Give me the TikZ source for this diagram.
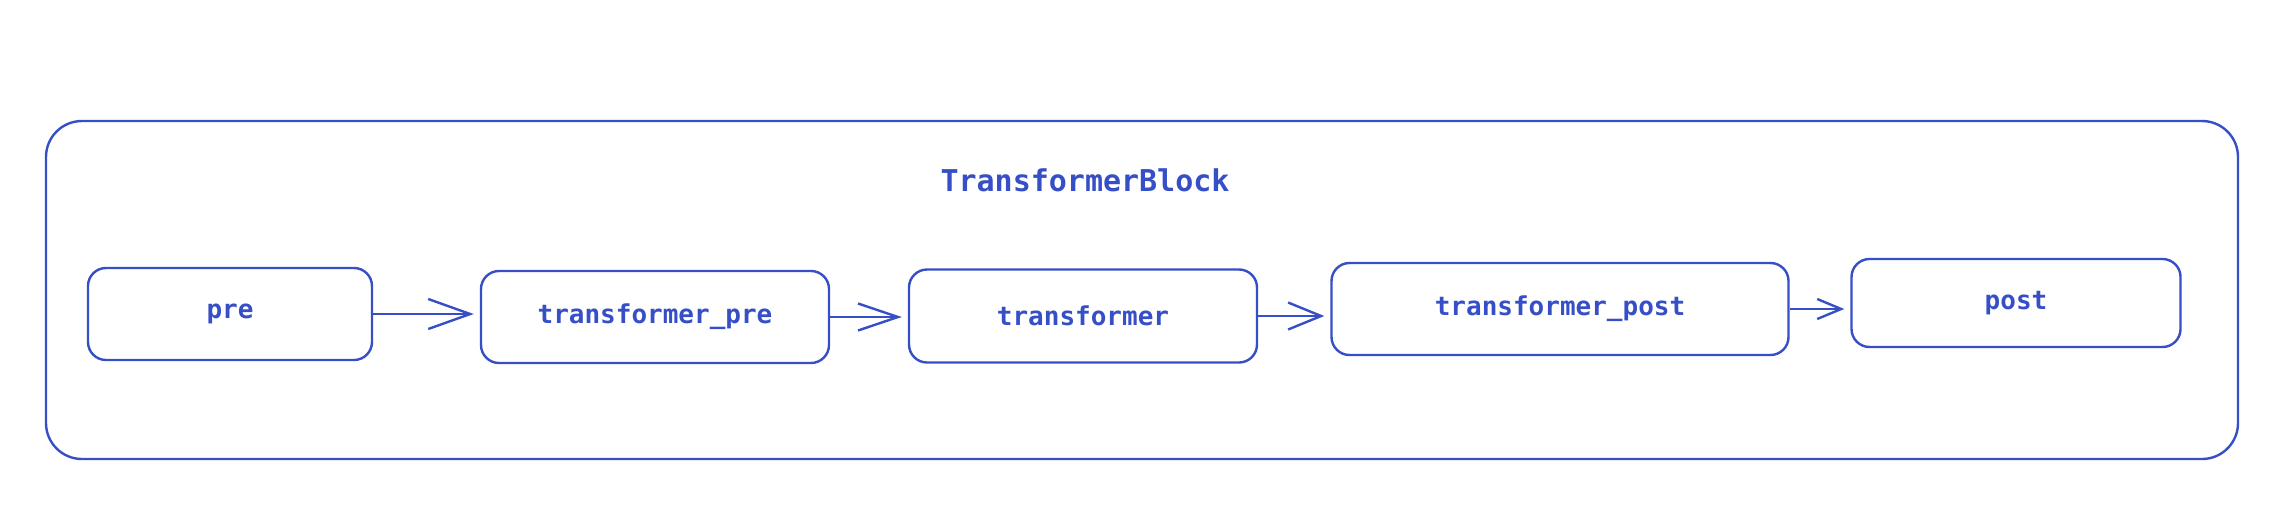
\documentclass[tikz,border=0pt]{standalone}
\usepackage{fontspec}
\setmonofont{DejaVu Sans Mono}
\usetikzlibrary{arrows.meta}
\definecolor{ink}{HTML}{364FC7}
\tikzset{
  blk/.style={draw=ink, line width=1.2pt, rounded corners=9pt, inner sep=0pt,
    font=\ttfamily\bfseries\fontsize{13}{15}\selectfont, text=ink},
  conn/.style={draw=ink, line width=1.2pt, shorten >=3pt}
}
\begin{document}
\begin{tikzpicture}[x=0.5pt, y=-0.5pt]
\useasboundingbox (0,0) rectangle (2278,509);
\node[draw=ink, line width=1.2pt, rounded corners=18pt, minimum width=1096pt, minimum height=169pt, inner sep=0pt] (outer) at (1142,290) {};
\node[text=ink, font=\ttfamily\bfseries\fontsize{15}{18}\selectfont] (title) at (1085,180) {TransformerBlock};
\node[blk, minimum width=142pt, minimum height=46pt] (pre) at (230,314) {pre};
\node[blk, minimum width=174pt, minimum height=46pt] (tpre) at (655,317) {transformer\_pre};
\node[blk, minimum width=174pt, minimum height=46.5pt] (trans) at (1083,316) {transformer};
\node[blk, minimum width=228.5pt, minimum height=46pt] (tpost) at (1560,309) {transformer\_post};
\node[blk, minimum width=164.5pt, minimum height=44pt] (post) at (2016,303) {post};
\draw[conn, -{Straight Barb[length=21pt, width=15pt, line width=1.2pt]}] (pre.east) -- (pre.east -| tpre.west);
\draw[conn, -{Straight Barb[length=20pt, width=13.5pt, line width=1.2pt]}] (tpre.east) -- (tpre.east -| trans.west);
\draw[conn, -{Straight Barb[length=16.5pt, width=13.5pt, line width=1.2pt]}] (trans.east) -- (trans.east -| tpost.west);
\draw[conn, -{Straight Barb[length=12pt, width=10pt, line width=1.2pt]}] (tpost.east) -- (tpost.east -| post.west);
\end{tikzpicture}
\end{document}
